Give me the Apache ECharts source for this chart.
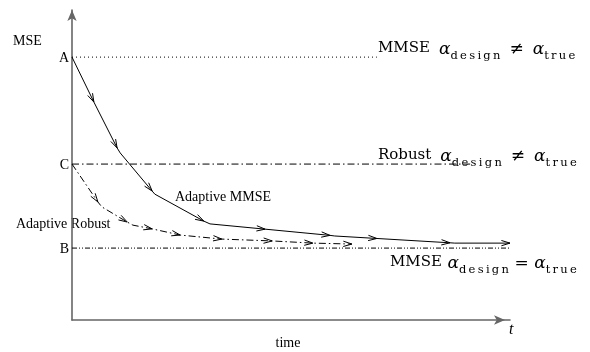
<!DOCTYPE html>
<html>
<head>
<meta charset="utf-8">
<script src="https://cdn.jsdelivr.net/npm/echarts@6/dist/echarts.min.js"></script>
<style>
  html, body { margin: 0; padding: 0; background: #fff; }
  #chart { width: 590px; height: 352px; }
</style>
</head>
<body>
<div id="chart"></div>
<script>
// levels (MSE value) of the three reference lines and where they stop in time
var levelA = 8.48, levelAEnd = 6.96;
var levelC = 5.03, levelCEnd = 9.09;
var levelB = 2.32, levelBEnd = 10;

// adaptive MMSE trajectory (solid)
var mmseT = [0, 0.50, 1.03, 1.10, 1.83, 1.89, 3.01, 3.15, 4.41, 5.89, 6.00, 6.96, 8.63, 8.74, 10];
var mmseV = [8.48, 7.03, 5.55, 5.39, 4.16, 4.06, 3.19, 3.10, 2.93, 2.73, 2.71, 2.63, 2.49, 2.48, 2.48];
var mmseArrows = [1, 2, 4, 6, 8, 9, 11, 12, 14];

// adaptive robust trajectory (dash-dot)
var robustT = [0, 0.59, 0.68, 1.26, 1.39, 1.83, 2.47, 3.42, 4.57, 5.50, 6.39];
var robustV = [5.03, 3.81, 3.65, 3.16, 3.06, 2.94, 2.74, 2.61, 2.55, 2.48, 2.45];
var robustArrows = [1, 3, 5, 6, 7, 8, 9, 10];

var ts = '\u2009';
function spaced(s) { return s.split('').join(ts); }

function pts(t, v) {
    var out = [];
    for (var i = 0; i < t.length; i++) out.push([t[i], v[i]]);
    return out;
}
function arrowData(t, v, idx) {
    return idx.map(function (i) { return [t[i], v[i], t[i - 1], v[i - 1]]; });
}

function renderArrow(params, api) {
    var p = api.coord([api.value(0), api.value(1)]);
    var q = api.coord([api.value(2), api.value(3)]);
    var a = Math.atan2(p[1] - q[1], p[0] - q[0]);
    var L = 9, w = 0.3;
    var b1 = [p[0] - L * Math.cos(a - w), p[1] - L * Math.sin(a - w)];
    var b2 = [p[0] - L * Math.cos(a + w), p[1] - L * Math.sin(a + w)];
    return {
        type: 'polyline',
        shape: { points: [b1, p, b2] },
        style: { stroke: '#000', fill: null, lineWidth: 1 }
    };
}

var serif = 'Liberation Serif';
var rf = 'DejaVu Serif';
var rich = {
    m: { fontFamily: rf, fontSize: 15, lineHeight: 15, verticalAlign: 'top', fill: '#000' },
    a: { fontFamily: rf, fontStyle: 'italic', fontSize: 17, lineHeight: 15, verticalAlign: 'top', fill: '#000' },
    r: { fontFamily: rf, fontSize: 17, lineHeight: 15, verticalAlign: 'top', fill: '#000' },
    s: { fontFamily: rf, fontSize: 11.5, lineHeight: 30, verticalAlign: 'middle', fill: '#000' },
    g: { width: 9, lineHeight: 15, verticalAlign: 'top' },
    h: { width: 5.5, lineHeight: 15, verticalAlign: 'top' }
};
function lab(name, rel, gap) {
    var g = '{' + gap + '|}';
    return '{m|' + name + '}' + g + '{a|α}{s|' + spaced('design') + '}' + g + '{r|' + rel + '}' + g + '{a|α}{s|' + spaced('true') + '}';
}

function txt(x, y, s, align, italic) {
    return {
        type: 'text', x: x, y: y,
        style: {
            text: s, fill: '#000', align: align || 'left', verticalAlign: 'middle',
            font: (italic ? 'italic ' : '') + '14px "' + serif + '"'
        }
    };
}

var chart = echarts.init(document.getElementById('chart'));
chart.setOption({
    animation: false,
    grid: { left: 72, top: 10, right: 80, bottom: 32 },
    xAxis: {
        type: 'value', min: 0, max: 10,
        axisLine: { onZero: false, symbol: ['none', 'arrow'], symbolSize: [7, 11], symbolOffset: [0, -5],
            lineStyle: { color: '#666', width: 1.6 } },
        axisTick: { show: false }, axisLabel: { show: false }, splitLine: { show: false }
    },
    yAxis: {
        type: 'value', min: 0, max: 10,
        axisLine: { show: true, onZero: false, symbol: ['none', 'arrow'], symbolSize: [7, 11],
            lineStyle: { color: '#666', width: 1.6 } },
        axisTick: { show: false }, axisLabel: { show: false }, splitLine: { show: false }
    },
    series: [
        { type: 'line', data: [[0, levelA], [levelAEnd, levelA]], symbol: 'none',
          lineStyle: { color: '#000', width: 1, type: [1, 3] } },
        { type: 'line', data: [[0, levelC], [levelCEnd, levelC]], symbol: 'none',
          lineStyle: { color: '#000', width: 1, type: [7, 3, 1.5, 3] } },
        { type: 'line', data: [[0, levelB], [levelBEnd, levelB]], symbol: 'none',
          lineStyle: { color: '#000', width: 1, type: [5, 2, 1, 2, 1, 2] } },
        { type: 'line', data: pts(mmseT, mmseV), symbol: 'none',
          lineStyle: { color: '#000', width: 1 } },
        { type: 'line', data: pts(robustT, robustV), symbol: 'none',
          lineStyle: { color: '#000', width: 1, type: [7, 3, 1.5, 3] } },
        { type: 'custom', renderItem: renderArrow, data: arrowData(mmseT, mmseV, mmseArrows),
          encode: { x: 0, y: 1 }, clip: false },
        { type: 'custom', renderItem: renderArrow, data: arrowData(robustT, robustV, robustArrows),
          encode: { x: 0, y: 1 }, clip: false }
    ],
    graphic: [
        txt(13, 41, 'MSE'),
        txt(69, 58, 'A', 'right'),
        txt(69, 165, 'C', 'right'),
        txt(69, 249, 'B', 'right'),
        txt(175, 197, 'Adaptive MMSE'),
        txt(16, 224, 'Adaptive Robust'),
        txt(288, 343, 'time', 'center'),
        { type: 'text', x: 509, y: 330, style: { text: 't', fill: '#000', verticalAlign: 'middle',
            font: 'italic 16px "' + serif + '"' } },
        { type: 'text', x: 378, y: 41, style: { text: lab('MMSE', '≠', 'g'), rich: rich, verticalAlign: 'top' } },
        { type: 'text', x: 378, y: 148, style: { text: lab('Robust', '≠', 'g'), rich: rich, verticalAlign: 'top' } },
        { type: 'text', x: 390, y: 255, style: { text: lab('MMSE', '=', 'h'), rich: rich, verticalAlign: 'top' } }
    ]
});
</script>
</body>
</html>
